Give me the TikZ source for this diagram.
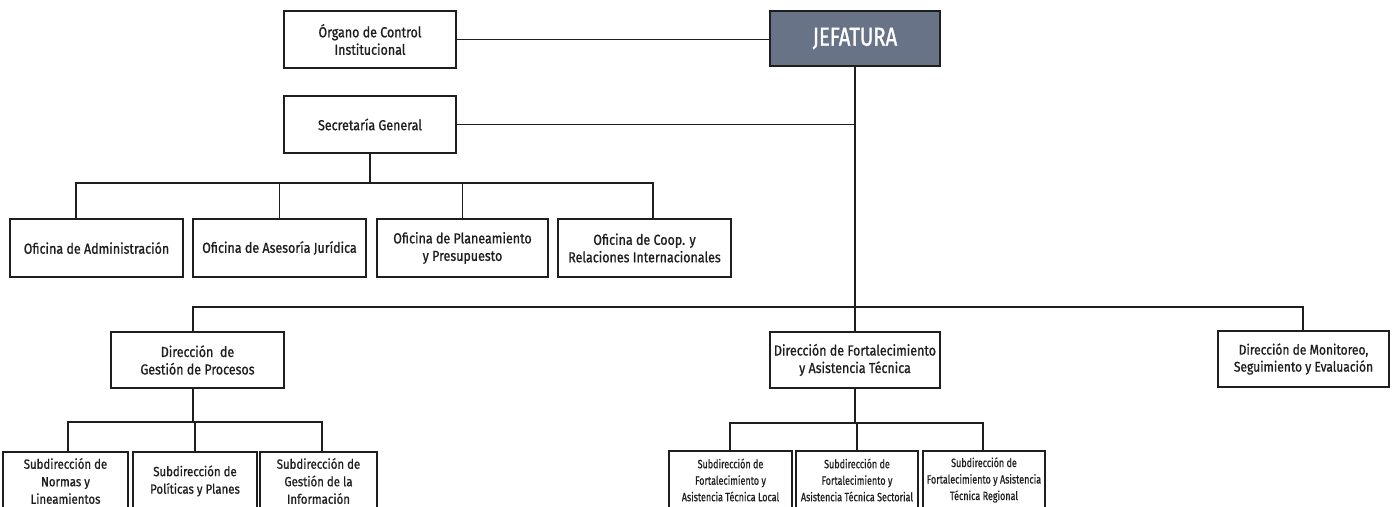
\documentclass[tikz,border=0pt]{standalone}
\usepackage{fontspec}
\setmainfont[FakeStretch=0.86,FakeBold=0.9]{Fira Sans}
\newfontfamily\narrowfont[FakeStretch=0.78,FakeBold=1.2]{Fira Sans}
\newfontfamily\subfont[FakeStretch=0.75,FakeBold=0.6]{Fira Sans}
\definecolor{jefe}{RGB}{104,115,136}
\definecolor{ink}{RGB}{30,30,30}
\begin{document}
\begin{tikzpicture}[x=1pt,y=-1pt,
  box/.style={draw=ink,line width=1.8pt,inner sep=0pt,align=center,text=ink,
    font=\fontsize{14.5}{17.5}\selectfont},
  subbox/.style={box,font=\fontsize{13.3}{17.5}\selectfont},
  fsub/.style={box,font=\subfont\fontsize{12}{16.5}\selectfont},
  chief/.style={box,fill=jefe,text=white,font=\narrowfont\fontsize{26}{28}\selectfont},
  conn/.style={draw=ink,line width=1.7pt},
]
\fill[white] (0,0) rectangle (1397,506);
\useasboundingbox (0,0) rectangle (1397,506);
\clip (0,0) rectangle (1397,506);

% top level
\node[box,minimum width=172pt,minimum height=57pt] (organo) at (370,39.5) {Órgano de Control\\Institucional};
\node[chief,minimum width=170pt,minimum height=55pt] (jefatura) at (855,38.5) {JEFATURA};
\node[box,minimum width=172pt,minimum height=57pt] (secre) at (370,124.5) {Secretaría General};

% offices
\node[box,minimum width=173pt,minimum height=58pt] (of1) at (96.5,248) {Oficina de Administración};
\node[box,minimum width=173pt,minimum height=58pt] (of2) at (279.5,248) {Oficina de Asesoría Jurídica};
\node[box,minimum width=171pt,minimum height=58pt] (of3) at (462.5,248) {Oficina de Planeamiento\\y Presupuesto};
\node[box,minimum width=173pt,minimum height=58pt] (of4) at (644.5,248) {Oficina de Coop. y\\Relaciones Internacionales};

% directions
\node[box,minimum width=173pt,minimum height=56pt] (dgp) at (197.5,360) {Dirección\ \ de\\Gestión de Procesos};
\node[box,minimum width=170pt,minimum height=56pt] (dfat) at (855,360) {Dirección de Fortalecimiento\\y Asistencia Técnica};
\node[box,minimum width=171pt,minimum height=56pt,font=\fontsize{14}{17}\selectfont] (dmon) at (1303.5,359) {Dirección de Monitoreo,\\Seguimiento y Evaluación};

% sub-directions of DGP
\node[subbox,minimum width=125pt,minimum height=58pt] (s1) at (65.5,481) {Subdirección de\\Normas y\\Lineamientos};
\node[subbox,minimum width=124pt,minimum height=58pt] (s2) at (195,481) {Subdirección de\\Políticas y Planes};
\node[subbox,minimum width=117pt,minimum height=58pt] (s3) at (318.5,481) {Subdirección de\\Gestión de la\\Información};

% sub-directions of DFAT
\node[fsub,minimum width=123pt,minimum height=58pt] (f1) at (730.5,480) {Subdirección de\\Fortalecimiento y\\Asistencia Técnica Local};
\node[fsub,minimum width=122pt,minimum height=58pt] (f2) at (857,480) {Subdirección de\\Fortalecimiento y\\Asistencia Técnica Sectorial};
\node[fsub,minimum width=122pt,minimum height=58pt] (f3) at (984,480) {Subdirección de\\Fortalecimiento y Asistencia\\Técnica Regional};

% bar coordinates
\coordinate (o1) at (76,183);
\coordinate (o4) at (653,183);
\coordinate (m1) at (193,307);
\coordinate (m2) at (1303,307);
\coordinate (g1) at (68,422);
\coordinate (g3) at (322,422);
\coordinate (h1) at (730,423);
\coordinate (h3) at (983,423);

% connectors
\draw[conn] (organo.east) -- (organo.east -| jefatura.west);
\draw[conn] (jefatura.south) -- (jefatura.south |- m1);
\draw[conn] (secre.east) -- (secre.east -| jefatura.south);
\draw[conn] (secre.south) -- (secre.south |- o1);
\draw[conn] (o1 |- of1.north) -- (o1) -- (o4) -- (o4 |- of4.north);
\draw[conn] (of2.north) -- (of2.north |- o1);
\draw[conn] (of3.north) -- (of3.north |- o1);
\draw[conn] (m1 |- dgp.north) -- (m1) -- (m2) -- (m2 |- dmon.north);
\draw[conn] (dfat.north) -- (dfat.north |- m1);
\draw[conn] (m1 |- dgp.south) -- (m1 |- g1);
\draw[conn] (g1 |- s1.north) -- (g1) -- (g3) -- (g3 |- s3.north);
\draw[conn] (s2.north) -- (s2.north |- g1);
\draw[conn] (dfat.south) -- (dfat.south |- h1);
\draw[conn] (h1 |- f1.north) -- (h1) -- (h3) -- (h3 |- f3.north);
\draw[conn] (f2.north) -- (f2.north |- h1);
\end{tikzpicture}
\end{document}
